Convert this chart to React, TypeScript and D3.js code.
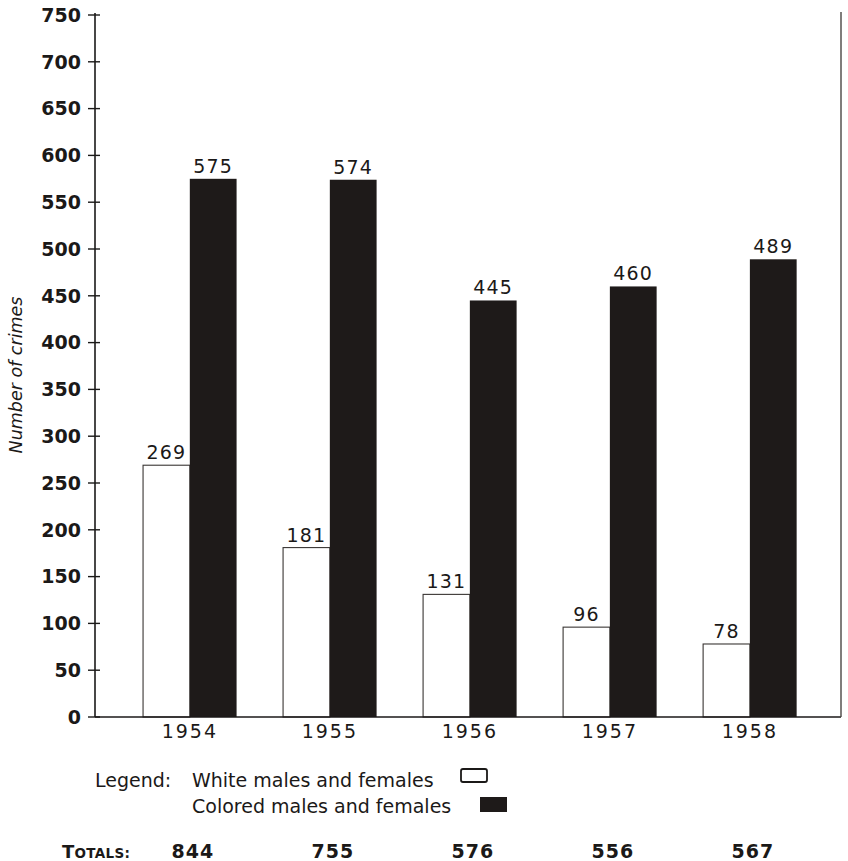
import React from "react";
import * as d3 from "d3";

// Crimes per year, split by group
const years = ["1954", "1955", "1956", "1957", "1958"];
const whiteCrimes = [269, 181, 131, 96, 78];
const coloredCrimes = [575, 574, 445, 460, 489];
const yTicks = [0, 50, 100, 150, 200, 250, 300, 350, 400, 450, 500, 550, 600, 650, 700, 750];
const seriesKeys = ["white", "colored"];
const legendLabels = ["White males and females", "Colored males and females"];

const W = 848;
const H = 861;
const left = 95;
const right = 841;
const top = 15;
const bottom = 717;

const ink = "#1b1918";
const barInk = "#1e1a19";
const font = "'DejaVu Sans', sans-serif";

export default function App() {
  const y = d3.scaleLinear().domain([0, 750]).range([bottom, top]);
  const x = d3
    .scaleBand<string>()
    .domain(years)
    .range([left, right])
    .paddingInner(0.332)
    .paddingOuter(0.33)
    .align(0.52);
  const xs = d3.scaleBand<string>().domain(seriesKeys).range([0, x.bandwidth()]).padding(0);

  const rows = years.map((yr, i) => ({
    year: yr,
    white: whiteCrimes[i],
    colored: coloredCrimes[i],
    total: whiteCrimes[i] + coloredCrimes[i],
  }));

  const center = (yr: string) => (x(yr) ?? 0) + x.bandwidth() / 2;

  return (
    <svg
      width={W}
      height={H}
      viewBox={`0 0 ${W} ${H}`}
      style={{ position: "absolute", left: 0, top: 0, background: "#fff" }}
    >
      <rect x={0} y={0} width={W} height={H} fill="#ffffff" />

      {/* bars */}
      {rows.map((r) => {
        const x0 = x(r.year) ?? 0;
        const wx = x0 + (xs("white") ?? 0);
        const cx = x0 + (xs("colored") ?? 0);
        const bw = xs.bandwidth();
        return (
          <g key={r.year}>
            <rect
              x={wx}
              y={y(r.white)}
              width={bw}
              height={bottom - y(r.white)}
              fill="#fff"
              stroke="#3a3634"
              strokeWidth={1.1}
            />
            <rect
              x={cx}
              y={y(r.colored)}
              width={bw}
              height={bottom - y(r.colored)}
              fill={barInk}
            />
            <text
              x={wx + bw / 2}
              y={y(r.white) - 6}
              textAnchor="middle"
              fontFamily={font}
              fontSize={19}
              letterSpacing={1.2}
              fill={ink}
            >
              {r.white}
            </text>
            <text
              x={cx + bw / 2}
              y={y(r.colored) - 6}
              textAnchor="middle"
              fontFamily={font}
              fontSize={19}
              letterSpacing={1.2}
              fill={ink}
            >
              {r.colored}
            </text>
            <text
              x={center(r.year)}
              y={738}
              textAnchor="middle"
              fontFamily={font}
              fontSize={19}
              letterSpacing={2}
              fill={ink}
            >
              {r.year}
            </text>
          </g>
        );
      })}

      {/* axes and frame */}
      <line x1={left} x2={left} y1={top - 2} y2={bottom} stroke={ink} strokeWidth={1.6} />
      <line x1={left} x2={right} y1={bottom} y2={bottom} stroke={ink} strokeWidth={1.6} />
      <line x1={right} x2={right} y1={top - 3} y2={bottom} stroke="#4a4644" strokeWidth={1.4} />
      {yTicks.map((t) => (
        <g key={t}>
          <line x1={left - 7} x2={left + 5} y1={y(t)} y2={y(t)} stroke={ink} strokeWidth={1.4} />
          <text
            x={left - 14}
            y={y(t)}
            dy="0.36em"
            textAnchor="end"
            fontFamily={font}
            fontWeight="bold"
            fontSize={19}
            fill={ink}
          >
            {t}
          </text>
        </g>
      ))}
      <text
        transform={`translate(22,${375}) rotate(-90)`}
        textAnchor="middle"
        fontFamily={font}
        fontStyle="italic"
        fontSize={17.5}
        fill={ink}
      >
        Number of crimes
      </text>

      {/* legend */}
      <text x={95} y={787} fontFamily={font} fontSize={19} fill={ink}>
        Legend:
      </text>
      <text x={192} y={787} fontFamily={font} fontSize={19} fill={ink}>
        {legendLabels[0]}
      </text>
      <rect x={461} y={769} width={26} height={13} rx={2} fill="#fff" stroke={ink} strokeWidth={1.8} />
      <text x={192} y={813} fontFamily={font} fontSize={19} fill={ink}>
        {legendLabels[1]}
      </text>
      <rect x={480} y={797} width={27} height={15} fill={barInk} />

      {/* totals */}
      <text x={62} y={858} fontFamily={font} fontWeight="bold" fill={ink} letterSpacing={0.3}>
        <tspan fontSize={18}>T</tspan>
        <tspan fontSize={13.5}>OTALS:</tspan>
      </text>
      {rows.map((r) => (
        <text
          key={`t${r.year}`}
          x={center(r.year) + 3}
          y={858}
          textAnchor="middle"
          fontFamily={font}
          fontWeight="bold"
          fontSize={19}
          letterSpacing={1}
          fill={ink}
        >
          {r.total}
        </text>
      ))}
    </svg>
  );
}
